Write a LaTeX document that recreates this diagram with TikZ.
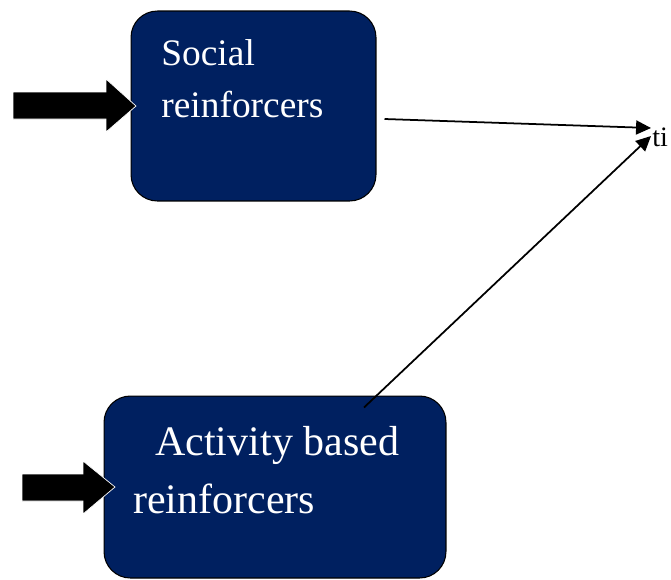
\documentclass[tikz,border=0pt]{standalone}
\usepackage{fontspec}
\setmainfont{Liberation Serif}
\usepackage{tikz}
\usetikzlibrary{arrows.meta, positioning, calc}
\definecolor{mynavy}{RGB}{0,32,96}
\tikzset{
  rblock/.style={rectangle, draw=black, fill=mynavy,
    rounded corners=15pt, line width=0.6pt},
  btext/.style={text=white, inner sep=0pt, anchor=base west},
  thinarrow/.style={-{Triangle[length=8.5pt,width=8pt]}, line width=1pt, color=black},
  fatarrow/.style={fill=black, draw=white, line width=0.4pt, line join=miter}
}

\begin{document}
\begin{tikzpicture}[x=0.02cm, y=-0.02cm]
  \useasboundingbox (0,0) rectangle (671,579);

  % Reinforcer boxes
  \node[rblock, minimum width=4.9cm, minimum height=3.8cm] (social) at (253.5,106) {};
  \node[rblock, minimum width=6.84cm, minimum height=3.64cm] (activity) at (275,487) {};

  % Box texts
  \node[btext, font=\fontsize{21.3}{26}\selectfont] (socialA) at (161,65) {Social};
  \node[btext, font=\fontsize{21.3}{26}\selectfont] (socialB) at (161,117) {reinforcers};
  \node[btext, font=\fontsize{23.9}{29}\selectfont] (activityA) at (155,455) {Activity based};
  \node[btext, font=\fontsize{23.9}{29}\selectfont] (activityB) at (133,513) {reinforcers};

  % Input block arrows
  \draw[fatarrow] (13,92) -- (106,92) -- (106,79) -- (136,106) -- (106,132)
    -- (106,119) -- (13,119) -- cycle;
  \draw[fatarrow] (22,474) -- (83,474) -- (83,461) -- (115,487) -- (83,514)
    -- (83,501) -- (22,501) -- cycle;

  % Outcome
  \coordinate (tipA) at (651,128);
  \coordinate (tipB) at (651,136);
  \node[anchor=base west, inner sep=0pt, font=\fontsize{16}{19}\selectfont] (ti) at (652,146) {ti};

  % Links
  \draw[thinarrow] ([xshift=0.16cm, yshift=-0.26cm]social.east) -- (tipA);
  \draw[thinarrow] ([xshift=1.78cm, yshift=-0.24cm]activity.north) -- (tipB);
\end{tikzpicture}
\end{document}
